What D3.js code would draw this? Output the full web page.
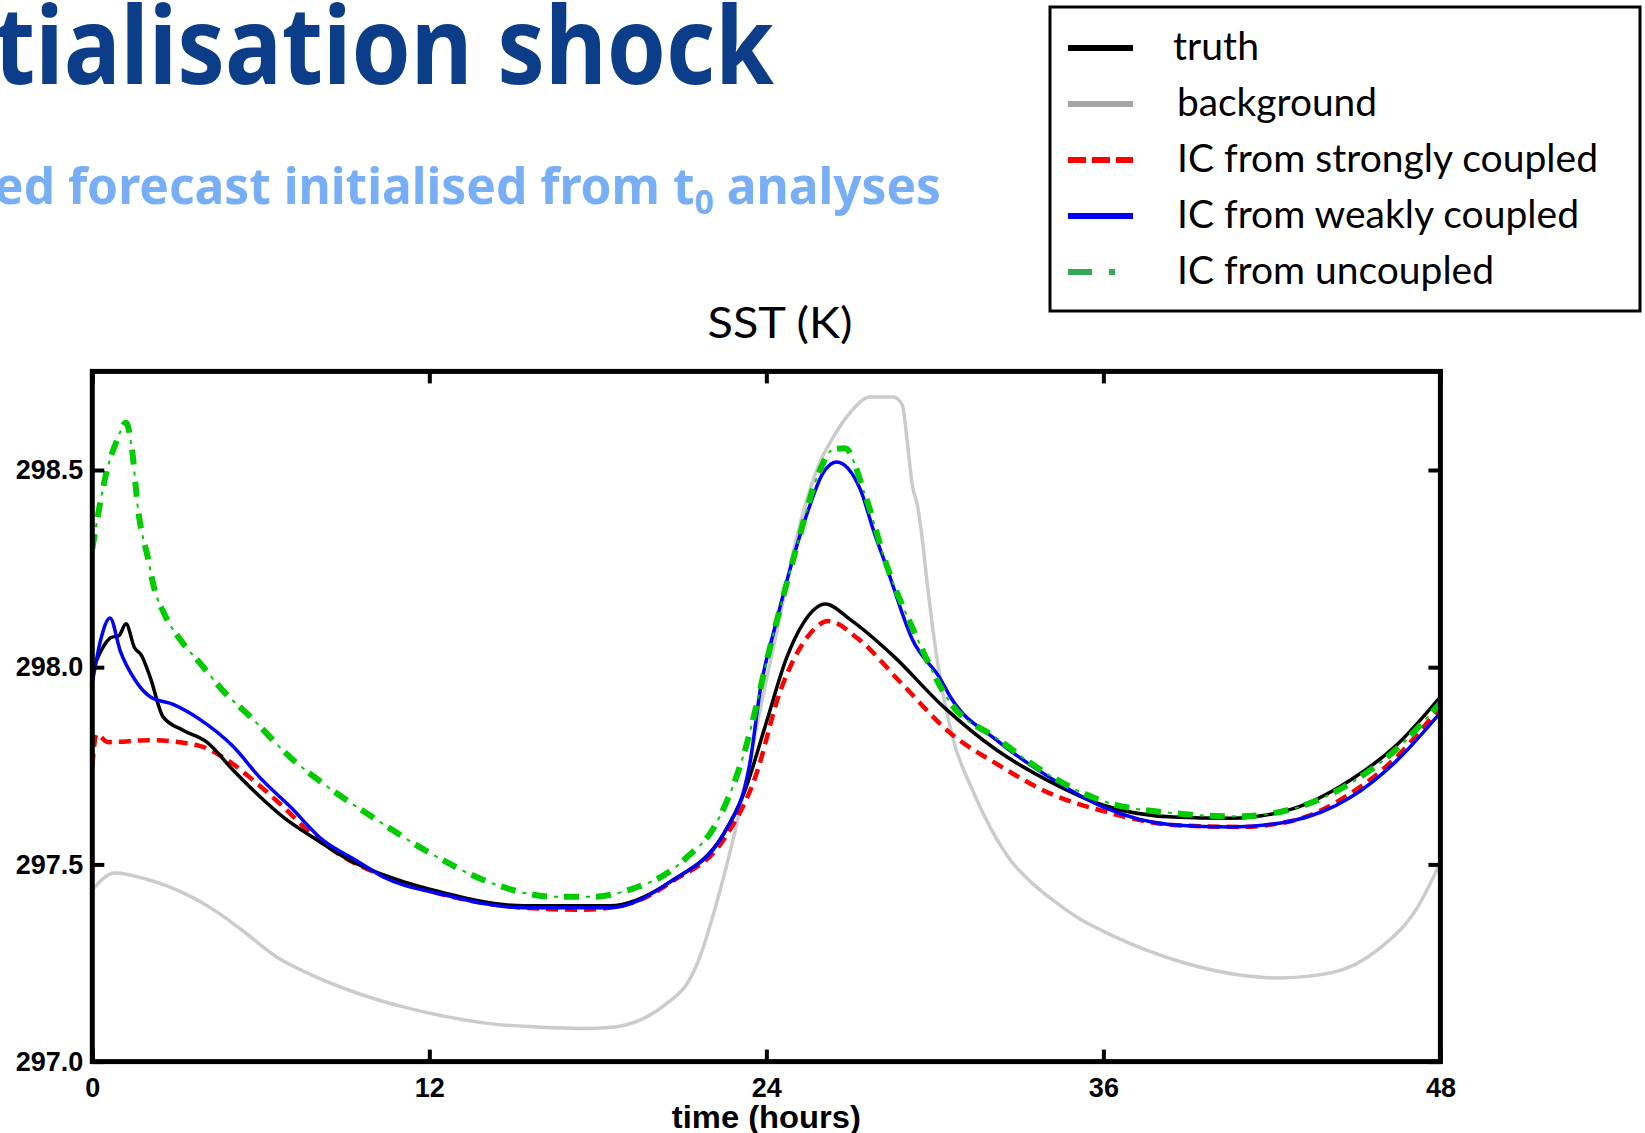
<!DOCTYPE html>
<html>
<head>
<meta charset="utf-8">
<script src="https://cdn.jsdelivr.net/npm/d3@7"></script>
<style>
  body { margin: 0; background: #fff; }
  svg { display: block; }
</style>
</head>
<body>
<svg id="chart" width="1645" height="1133"></svg>
<script>
// series: [time (hours), SST (K)]
var truth = [[0, 297.99], [0.3, 298.04], [0.66, 298.075], [0.95, 298.08], [1.2, 298.11], [1.5, 298.05],
  [1.75, 298.03], [2.06, 297.975], [2.52, 297.874], [3.23, 297.84], [4.08, 297.81], [5.0, 297.74],
  [5.85, 297.68], [6.8, 297.62], [8.0, 297.562], [9.18, 297.51], [10.7, 297.465], [12.4, 297.43],
  [15.4, 297.395], [18.4, 297.395], [20.6, 297.457], [22.5, 297.58], [23.2, 297.68], [24.0, 297.86],
  [24.7, 298.02], [25.3, 298.11], [26.1, 298.16], [27.0, 298.12], [28.5, 298.03], [30.3, 297.9],
  [32.2, 297.79], [34.1, 297.71], [36.0, 297.65], [38.5, 297.62], [40.5, 297.617], [42.7, 297.64],
  [44.8, 297.714], [46.4, 297.80], [48, 297.925]];

var background = [[0, 297.436], [0.8, 297.478], [1.9, 297.463], [2.75, 297.443], [4.34, 297.384],
  [5.3, 297.335], [6.55, 297.266], [7.8, 297.22], [9.42, 297.174], [11.0, 297.14], [12.6, 297.114],
  [14.3, 297.095], [15.8, 297.088], [17.4, 297.084], [18.6, 297.088], [19.5, 297.105], [20.5, 297.15],
  [21.2, 297.2], [21.55, 297.25], [21.8, 297.30], [22.1, 297.37], [22.45, 297.46], [22.87, 297.58],
  [23.3, 297.72], [23.6, 297.83], [24.4, 298.10], [25.1, 298.335], [25.85, 298.51], [26.4, 298.585],
  [27.0, 298.647], [27.7, 298.685], [28.53, 298.685], [28.84, 298.665], [29.02, 298.57], [29.2, 298.46],
  [29.38, 298.41], [29.56, 298.32], [29.7, 298.23], [30.1, 298.01], [30.64, 297.82], [31.33, 297.69],
  [32.0, 297.59], [32.7, 297.51], [33.5, 297.45], [34.1, 297.415], [35.2, 297.36], [36.3, 297.32],
  [38.9, 297.25], [40.8, 297.22], [42.2, 297.212], [44.1, 297.225], [45.8, 297.285], [47.2, 297.393],
  [48, 297.505]];

var strongly = [[0, 297.75], [0.15, 297.83], [0.56, 297.81], [2.06, 297.815], [3.84, 297.80], [4.8, 297.765],
  [5.62, 297.72], [6.8, 297.646], [7.76, 297.58], [8.7, 297.53], [10.7, 297.462], [12.4, 297.425],
  [15.4, 297.39], [17.5, 297.385], [19.5, 297.41], [20.6, 297.455], [22.5, 297.565], [23.6, 297.72],
  [24.5, 297.94], [25.5, 298.08], [26.2, 298.117], [27.3, 298.07], [28.8, 297.96], [30.6, 297.83],
  [32.2, 297.755], [34.1, 297.68], [36.0, 297.635], [38.5, 297.60], [40.8, 297.595], [42.7, 297.61],
  [44.8, 297.68], [46.4, 297.77], [48, 297.90]];

var weakly = [[0, 297.96], [0.3, 298.07], [0.63, 298.125], [1.0, 298.04], [1.5, 297.97], [2.06, 297.925],
  [2.9, 297.905], [3.84, 297.867], [5.0, 297.80], [5.97, 297.72], [7.05, 297.646], [8.2, 297.562],
  [9.4, 297.51], [10.36, 297.468], [12.4, 297.425], [15.4, 297.39], [18.4, 297.39], [20.6, 297.457],
  [22.5, 297.58], [23.4, 297.75], [23.8, 297.95], [24.3, 298.1], [24.85, 298.25], [25.5, 298.4],
  [26.0, 298.49], [26.5, 298.52], [27.35, 298.45], [27.8, 298.35], [28.3, 298.25], [29.2, 298.07],
  [30.2, 297.97], [30.55, 297.925], [32.2, 297.815], [34.1, 297.72], [36.0, 297.645], [38.5, 297.60],
  [40.6, 297.595], [42.7, 297.61], [44.8, 297.67], [46.4, 297.76], [48, 297.885]];

var uncoupled = [[0, 298.30], [0.56, 298.51], [0.85, 298.57], [1.2, 298.62], [1.4, 298.56], [1.63, 298.40],
  [2.0, 298.27], [2.17, 298.21], [2.6, 298.13], [3.13, 298.07], [3.84, 298.01], [4.66, 297.94],
  [5.62, 297.875], [7.15, 297.765], [8.2, 297.706], [10.15, 297.612], [12.0, 297.53], [14.2, 297.453],
  [16.5, 297.418], [17.8, 297.418], [19.3, 297.44], [20.6, 297.484], [21.2, 297.52], [22.1, 297.59],
  [23.2, 297.78], [24.2, 298.07], [25.1, 298.31], [25.85, 298.49], [26.4, 298.553], [26.8, 298.555],
  [27.5, 298.44], [28.3, 298.255], [29.2, 298.10], [30.55, 297.91], [32.2, 297.82], [34.1, 297.725],
  [36.0, 297.66], [38.5, 297.63], [40.8, 297.622], [42.7, 297.64], [44.8, 297.706], [46.4, 297.79],
  [48, 297.91]];

var xTicks = [0, 12, 24, 36, 48];
var yTicks = [297.0, 297.5, 298.0, 298.5];
var legendLabels = ["truth", "background", "IC from strongly coupled", "IC from weakly coupled", "IC from uncoupled"];

var svg = d3.select("#chart");

var x = d3.scaleLinear().domain([0, 48]).range([92.3, 1440.4]);
var y = d3.scaleLinear().domain([297, 298.75]).range([1061.6, 371.4]);

// headings (slide is cropped on the left)
svg.append("text")
  .attr("x", -6).attr("y", 84)
  .attr("textLength", 780).attr("lengthAdjust", "spacingAndGlyphs")
  .style("font-family", "'Noto Sans', sans-serif").style("font-weight", "bold")
  .style("font-size", "108px").style("fill", "#0b3d88")
  .text("tialisation shock");

var sub = svg.append("text")
  .attr("x", -6).attr("y", 204)
  .attr("textLength", 947).attr("lengthAdjust", "spacingAndGlyphs")
  .style("font-family", "'Noto Sans', sans-serif").style("font-weight", "bold")
  .style("font-size", "50px").style("fill", "#78aef5");
sub.append("tspan").text("ed forecast initialised from t");
sub.append("tspan").attr("dy", 10).style("font-size", "34px").text("0");
sub.append("tspan").attr("dy", -10).text(" analyses");

svg.append("text")
  .attr("x", 780).attr("y", 338)
  .attr("text-anchor", "middle")
  .attr("textLength", 145).attr("lengthAdjust", "spacingAndGlyphs")
  .style("font-family", "Lato, sans-serif").style("font-size", "43px")
  .text("SST (K)");

// clip
svg.append("clipPath").attr("id", "plotclip")
  .append("rect")
  .attr("x", x(0)).attr("y", y(298.75))
  .attr("width", x(48) - x(0)).attr("height", y(297) - y(298.75));

var line = d3.line()
  .x(function (d) { return x(d[0]); })
  .y(function (d) { return y(d[1]); })
  .curve(d3.curveMonotoneX);

var plot = svg.append("g").attr("clip-path", "url(#plotclip)")
  .style("fill", "none").style("stroke-linejoin", "round");

plot.append("path").datum(background).attr("d", line)
  .style("stroke", "#cbcbcb").style("stroke-width", 3.5);
plot.append("path").datum(strongly).attr("d", line)
  .style("stroke", "#ff0000").style("stroke-width", 4.5).style("stroke-dasharray", "12,7");
plot.append("path").datum(truth).attr("d", line)
  .style("stroke", "#000").style("stroke-width", 3.5);
plot.append("path").datum(weakly).attr("d", line)
  .style("stroke", "#0000ff").style("stroke-width", 3.5);
// dash-dot: thick dashes plus thin dots
plot.append("path").datum(uncoupled).attr("d", line)
  .style("stroke", "#00cc00").style("stroke-width", 6).style("stroke-dasharray", "15,17");
plot.append("path").datum(uncoupled).attr("d", line)
  .style("stroke", "#00cc00").style("stroke-width", 2).style("stroke-dasharray", "0,22,4,6");

// axes with inward ticks on all four sides
function styleAxis(g) {
  g.select(".domain").remove();
  g.selectAll(".tick line").style("stroke", "#000").style("stroke-width", 4);
  g.selectAll(".tick text")
    .style("font-family", "'Liberation Sans', Arial, sans-serif")
    .style("font-weight", "bold").style("font-size", "27px").style("fill", "#000");
}

svg.append("g")
  .attr("transform", "translate(0," + y(297) + ")")
  .call(d3.axisBottom(x).tickValues(xTicks).tickSize(-12).tickPadding(16).tickFormat(d3.format("d")))
  .call(styleAxis);

svg.append("g")
  .attr("transform", "translate(" + x(0) + ",0)")
  .call(d3.axisLeft(y).tickValues(yTicks).tickSize(-12).tickPadding(9).tickFormat(d3.format(".1f")))
  .call(styleAxis);

svg.append("g")
  .attr("transform", "translate(0," + y(298.75) + ")")
  .call(d3.axisTop(x).tickValues(xTicks).tickSize(-12).tickFormat(""))
  .call(styleAxis);

svg.append("g")
  .attr("transform", "translate(" + x(48) + ",0)")
  .call(d3.axisRight(y).tickValues(yTicks).tickSize(-12).tickFormat(""))
  .call(styleAxis);

svg.append("rect")
  .attr("x", x(0)).attr("y", y(298.75))
  .attr("width", x(48) - x(0)).attr("height", y(297) - y(298.75))
  .style("fill", "none").style("stroke", "#000").style("stroke-width", 5);

svg.append("text")
  .attr("x", x(24)).attr("y", 1128)
  .attr("text-anchor", "middle")
  .attr("textLength", 189).attr("lengthAdjust", "spacingAndGlyphs")
  .style("font-family", "'Liberation Sans', Arial, sans-serif")
  .style("font-weight", "bold").style("font-size", "31px")
  .text("time (hours)");

// legend
var legendStyles = [
  { color: "#000", dash: null, width: 6 },
  { color: "#a6a6a6", dash: null, width: 6 },
  { color: "#ff0000", dash: "18,6", width: 6 },
  { color: "#0000ff", dash: null, width: 6 },
  { color: "#33aa55", dash: "24,17,6,100", width: 6 }
];
var legendWidths = [86, 200, 421, 402, 317];

var legend = svg.append("g");
legend.append("rect")
  .attr("x", 1050).attr("y", 7).attr("width", 590).attr("height", 304)
  .style("fill", "#fff").style("stroke", "#000").style("stroke-width", 3);

var items = legend.selectAll(".item").data(legendLabels).enter()
  .append("g").attr("class", "item")
  .attr("transform", function (d, i) { return "translate(0," + (48 + i * 56) + ")"; });

items.append("line")
  .attr("x1", 1068).attr("x2", 1133).attr("y1", 0).attr("y2", 0)
  .style("stroke", function (d, i) { return legendStyles[i].color; })
  .style("stroke-width", function (d, i) { return legendStyles[i].width; })
  .style("stroke-dasharray", function (d, i) { return legendStyles[i].dash; });

items.append("text")
  .attr("x", function (d, i) { return i == 0 ? 1173 : 1177; })
  .attr("y", 12)
  .attr("textLength", function (d, i) { return legendWidths[i]; })
  .attr("lengthAdjust", "spacingAndGlyphs")
  .style("font-family", "Lato, sans-serif").style("font-size", "38px")
  .text(function (d) { return d; });
</script>
</body>
</html>
